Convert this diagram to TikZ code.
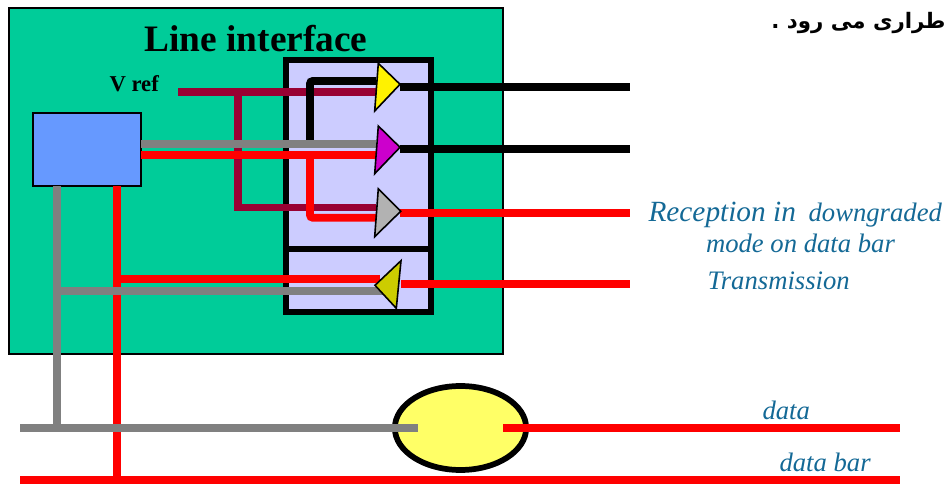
\documentclass[tikz,border=0pt]{standalone}
\usepackage{fontspec}
\usetikzlibrary{shapes.geometric}
\setmainfont{Liberation Serif}
\newfontfamily\arabicfont[Script=Arabic]{DejaVu Sans}
\TeXXeTstate=1
\definecolor{boardgreen}{RGB}{0,204,153}
\definecolor{boxblue}{RGB}{102,153,255}
\definecolor{modlilac}{RGB}{204,204,255}
\definecolor{wiremaroon}{RGB}{153,0,51}
\definecolor{wiregray}{RGB}{128,128,128}
\definecolor{labelblue}{RGB}{20,105,150}
\tikzset{every picture/.style={line width=0.75pt}}
\tikzset{
  wire/.style={line width=5.8pt},
  amp/.style={draw=black,line width=1.2pt,line join=miter},
  note/.style={inner sep=0pt,text=labelblue,font=\fontsize{20}{24}\selectfont\itshape},
}
\begin{document}
\begin{tikzpicture}[x=0.75pt,y=0.75pt,yscale=-1,xscale=1]
\useasboundingbox (0,0) rectangle (946,484);

%Board
\draw [fill=boardgreen,line width=1.5pt] (9,8) rectangle (503,354);
%Module
\draw [fill=modlilac,line width=4.2pt] (286,60) rectangle (431,312);
\coordinate (divl) at (286,249);
\coordinate (divr) at (431,249);
\draw [line width=3.8pt] (divl) -- (divr);

%Blue box and ellipse
\node (ctrl) [draw,fill=boxblue,line width=1.5pt,minimum width=81pt,minimum height=54.75pt,inner sep=0pt] at (87,149.5) {};
\node (rx) [draw,ellipse,fill={rgb,255:red,255;green,255;blue,102},line width=4.3pt,minimum width=98.5pt,minimum height=63pt,inner sep=0pt] at (460.5,428) {};

%Coordinates of the wire ends
\coordinate (vrefs) at (178,91.7);
\coordinate (vrefj) at (238,91.7);
\coordinate (vrefb) at (238,207.5);
\coordinate (ampa) at (376,91.7);
\coordinate (ampc) at (376,207.5);
\coordinate (graya) at (141,144);
\coordinate (grayb) at (376,144);
\coordinate (reda) at (141,155);
\coordinate (redb) at (376,155);
\coordinate (bendr) at (310,155);
\coordinate (bendk) at (310,140);
\coordinate (gnda) at (57,186);
\coordinate (gndb) at (57,428);
\coordinate (txa) at (117,186);
\coordinate (txb) at (117,480);
\coordinate (buss) at (20,428);
\coordinate (buse) at (418,428);
\coordinate (bars) at (20,480);
\coordinate (bare) at (900,480);
\coordinate (datas) at (503,428);
\coordinate (datae) at (900,428);

%Wires
\draw [wire,color=wiremaroon] (vrefs) -- (ampa);
\draw [wire,color=wiremaroon] (vrefj) -- (vrefb) -- (ampc);
\draw [wire,color=black,rounded corners=2pt] (bendk) -- (310,81) -- (376,81);
\draw [wire,color=black] (400,86.7) -- (630,86.7);
\draw [wire,color=black] (400,149.3) -- (630,149.3);
\draw [wire,color=wiregray] (graya) -- (grayb);
\draw [wire,color=red] (reda) -- (redb);
\draw [wire,color=red,rounded corners=2pt] (bendr) -- (310,217.7) -- (376,217.7);
\draw [wire,color=red] (400,212.7) -- (630,212.7);
\draw [wire,color=red] (401,284.3) -- (630,284.3);
\draw [wire,color=wiregray] (gnda) -- (gndb);
\draw [wire,color=red] (txa) -- (txb);
\draw [wire,color=red] (117,279) -- (380,279);
\draw [wire,color=wiregray] (57,291) -- (384,291);
\draw [wire,color=red] (bars) -- (bare);
\draw [wire,color=wiregray] (buss) -- (buse);
\draw [wire,color=red] (datas) -- (datae);

%Amplifiers
\draw [amp,fill=yellow] (378.3,63.3) -- (400,84.3) -- (374.7,111) -- cycle;
\draw [amp,fill={rgb,255:red,204;green,0;blue,204}] (378.3,126) -- (400,147.3) -- (374.7,173.7) -- cycle;
\draw [amp,fill={rgb,255:red,178;green,178;blue,178}] (378.3,188.7) -- (400.7,211.3) -- (374.7,236.7) -- cycle;
\draw [amp,fill={rgb,255:red,204;green,204;blue,0}] (401,260.7) -- (375,285.3) -- (396.3,308.3) -- cycle;

% Text Node
\node (title) [inner sep=0pt,font=\fontsize{28}{32}\selectfont\bfseries] at (256,39) {Line interface};
\node (vref) [anchor=west,inner sep=0pt,font=\fontsize{17}{20}\selectfont\bfseries] at (109,84) {V ref};
\node (farsi) [anchor=east,inner sep=0pt,font=\fontsize{16}{20}\selectfont\bfseries] at (946,23) {\arabicfont\beginR طراری می رود .\endR};
\node (recep) [note,anchor=base west] at (648,221.5) {{\fontsize{22}{24}\selectfont Reception in}\hspace{9.5pt}downgraded};
\node (recepb) [note,anchor=base] at (800.5,252.5) {mode on data bar};
\node (trans) [note,anchor=base west] at (707,289.5) {Transmission};
\node (data) [note,anchor=west] at (762,410) {data};
\node (databar) [note,anchor=west] at (779,462) {data bar};
\end{tikzpicture}
\end{document}
